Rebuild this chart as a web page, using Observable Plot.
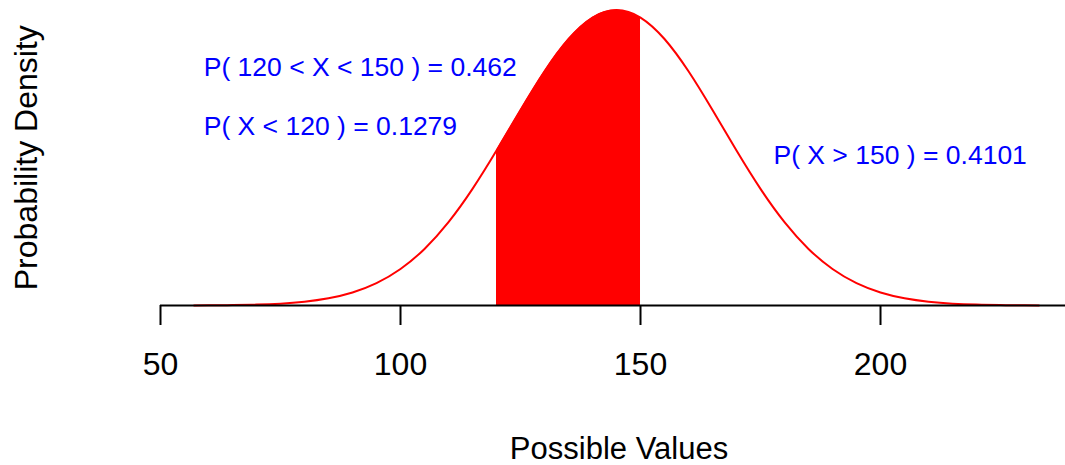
<!DOCTYPE html>
<html><head><meta charset="utf-8">
<script src="https://cdn.jsdelivr.net/npm/d3@7"></script>
<script src="https://cdn.jsdelivr.net/npm/@observablehq/plot@0.6"></script>
<style>html,body{margin:0;padding:0;background:#fff;}</style>
</head><body><div id="chart"></div>
<script>
// Normal density curve (mean ~145, sd ~22)
const xValues = [57, 60, 65, 70, 75, 80, 85, 90, 95, 100, 105, 110, 115, 120, 125, 130, 135, 140, 145,
  150, 155, 160, 165, 170, 175, 180, 185, 190, 195, 200, 205, 210, 215, 220, 225, 230, 233];
const densities = [6.083e-6, 1.0400e-5, 2.4385e-5, 5.430e-5, 1.1484e-4, 2.3065e-4, 4.3991e-4, 7.9675e-4,
  1.3705e-3, 2.2387e-3, 3.4725e-3, 5.1154e-3, 7.1568e-3, 9.5078e-3, 1.19958e-2, 1.4373e-2, 1.6354e-2,
  1.7672e-2, 1.8134e-2,
  1.7672e-2, 1.6354e-2, 1.4373e-2, 1.19958e-2, 9.5078e-3, 7.1568e-3, 5.1154e-3, 3.4725e-3, 2.2387e-3,
  1.3705e-3, 7.9675e-4, 4.3991e-4, 2.3065e-4, 1.1484e-4, 5.430e-5, 2.4385e-5, 1.0400e-5, 6.083e-6];
const shadeRange = [120, 150];
const xTicks = [50, 100, 150, 200];
const xDomain = [50, 238.54];
const yDomain = [0, 0.018134];
const annotationTexts = ["P( 120 < X < 150 ) = 0.462", "P( X < 120 ) = 0.1279", "P( X > 150 ) = 0.4101"];
const annotationX = [59, 59, 177.7];
const annotationY = [0.014575, 0.010954, 0.009175];

const curve = xValues.map((x, i) => ({x, d: densities[i]}));
const shaded = curve.filter(p => p.x >= shadeRange[0] && p.x <= shadeRange[1]);
const annotations = annotationTexts.map((t, i) => ({t, x: annotationX[i], y: annotationY[i]}));

const chart = Plot.plot({
  width: 1065, height: 465,
  marginLeft: 160, marginRight: 0, marginTop: 9.5, marginBottom: 160,
  x: {domain: xDomain, axis: null},
  y: {domain: yDomain, axis: null},
  style: {fontFamily: "'Liberation Sans', Arial, Helvetica, sans-serif", color: "black", background: "white", overflow: "visible"},
  marks: [
    Plot.areaY(shaded, {x: "x", y: "d", fill: "#ff0000", curve: "natural"}),
    Plot.line(curve, {x: "x", y: "d", stroke: "#ff0000", strokeWidth: 2, curve: "natural"}),
    Plot.ruleY([0], {x1: xDomain[0], x2: xDomain[1], stroke: "black", strokeWidth: 2}),
    Plot.axisX(xTicks, {anchor: "bottom", tickSize: 20, tickPadding: 27, fontSize: 32, strokeWidth: 2, label: null}),
    Plot.text(annotations, {x: "x", y: "y", text: "t", fill: "#0000ff", fontSize: 26.5, textAnchor: "start"}),
    Plot.text(["Possible Values"], {frameAnchor: "bottom", textAnchor: "middle", lineAnchor: "bottom", dy: 153, dx: 6, fontSize: 31}),
    Plot.text(["Probability Density"], {frameAnchor: "left", textAnchor: "middle", rotate: -90, lineAnchor: "bottom", dx: -124, fontSize: 32})
  ]
});
document.getElementById("chart").appendChild(chart);
</script>
</body></html>
